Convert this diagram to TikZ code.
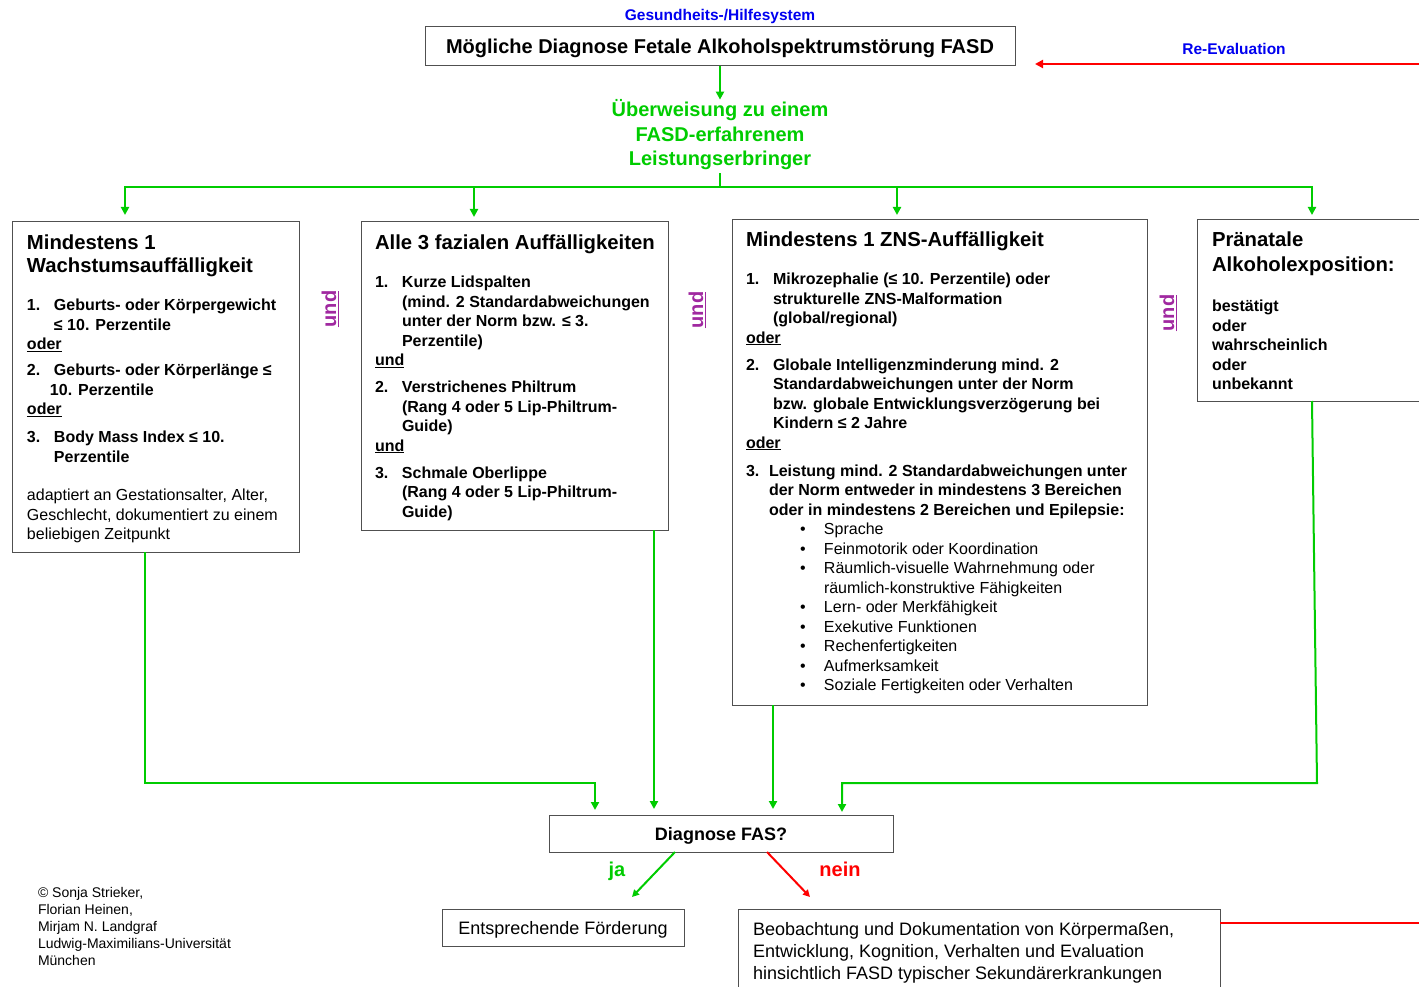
\documentclass[tikz,border=0pt]{standalone}
\usepackage{fontspec}
\setmainfont{Liberation Sans}
\usetikzlibrary{arrows.meta,calc}
\definecolor{fgreen}{RGB}{0,204,0}
\definecolor{fblue}{RGB}{0,0,240}
\definecolor{fred}{RGB}{255,0,0}
\definecolor{fpurple}{RGB}{160,40,160}
\definecolor{fgray}{RGB}{80,80,80}
\newcommand\fsz[2]{\fontsize{#1}{#2}\selectfont}
\newcommand\mc[1]{\multicolumn{2}{@{}l@{}}{\underline{#1}}}
\newcommand\bul[1]{\mdseries\hspace{27pt}\makebox[24pt][l]{•}#1}
\begin{document}
\begin{tikzpicture}[x=1pt,y=-1pt,
  box/.style={draw=fgray,line width=1pt,rectangle,inner sep=0pt,outer sep=0pt},
  txt/.style={inner sep=0pt,outer sep=0pt,anchor=base west,text=black},
  ctxt/.style={inner sep=0pt,outer sep=0pt,anchor=base},
  gline/.style={draw=fgreen,line width=2pt},
  garrow/.style={gline,-{Triangle[length=8pt,width=8pt]}},
  rline/.style={draw=fred,line width=2pt},
  rarrow/.style={rline,-{Triangle[length=8pt,width=8pt]}},
  undlab/.style={rotate=90,text=fpurple,font=\fsz{20}{24}\bfseries,inner sep=0pt},
  title/.style={txt,font=\fsz{20.3}{23}\bfseries},
  items/.style={txt,font=\fsz{16}{19.5}\bfseries},
]
\useasboundingbox (0,0) rectangle (1419,987);
\clip (0,0) rectangle (1419,987);

% header
\node[ctxt,text=fblue,font=\fsz{15.5}{18}\bfseries] (sys) at (720,20.5) {Gesundheits-/Hilfesystem};
\node[box,minimum width=590pt,minimum height=39pt] (top) at (720,46.5) {};
\node[ctxt,font=\fsz{20}{24}\bfseries] (topt) at ([yshift=-7pt]top.center)
  {Mögliche Diagnose Fetale Alkoholspektrumstörung FASD};
\node[ctxt,text=fblue,font=\fsz{15.5}{18}\bfseries] (reev) at (1234,54.5) {Re-Evaluation};
\node[ctxt,text=fgreen,font=\fsz{20}{24.5}\bfseries] (ueb) at (720,116.8)
  {\begin{tabular}[t]{@{}c@{}}Überweisung zu einem\\FASD-erfahrenem\\Leistungserbringer\end{tabular}};

% boxes
\node[box,minimum width=287pt,minimum height=330pt] (b1) at (155.5,387) {};
\node[box,minimum width=307pt,minimum height=308pt] (b2) at (514.5,376) {};
\node[box,minimum width=415pt,minimum height=485pt] (b3) at (939.5,462.5) {};
\node[box,minimum width=240pt,minimum height=181pt] (b4) at (1317,310.5) {};

% box 1
\node[title] (b1t) at (27,250)
  {\begin{tabular}[t]{@{}l@{}}Mindestens 1\\Wachstumsauffälligkeit\end{tabular}};
\node[items] (b1i) at (27,310.6)
  {\begin{tabular}[t]{@{}p{27pt}@{}l@{}}
  1. & Geburts- oder Körpergewicht\\
     & ≤ 10. Perzentile\\
  \mc{oder}\\[6.5pt]
  2. & Geburts- oder Körperlänge ≤\\
     & \hspace{-4pt}10. Perzentile\\
  \mc{oder}\\[8.5pt]
  3. & Body Mass Index ≤ 10.\\
     & Perzentile
  \end{tabular}};
\node[txt,font=\fsz{16}{19.5}] (b1f) at (27,500.6)
  {\begin{tabular}[t]{@{}l@{}}adaptiert an Gestationsalter, Alter,\\Geschlecht, dokumentiert zu einem\\beliebigen Zeitpunkt\end{tabular}};

% box 2
\node[title] (b2t) at (375,250) {Alle 3 fazialen Auffälligkeiten};
\node[items] (b2i) at (375,287.6)
  {\begin{tabular}[t]{@{}p{27pt}@{}l@{}}
  1. & Kurze Lidspalten\\
     & (mind. 2 Standardabweichungen\\
     & unter der Norm bzw. ≤ 3.\\
     & Perzentile)\\
  \mc{und}\\[7.5pt]
  2. & Verstrichenes Philtrum\\
     & (Rang 4 oder 5 Lip-Philtrum-\\
     & Guide)\\
  \mc{und}\\[7.5pt]
  3. & Schmale Oberlippe\\
     & (Rang 4 oder 5 Lip-Philtrum-\\
     & Guide)
  \end{tabular}};

% box 3
\node[title] (b3t) at (746,247) {Mindestens 1 ZNS-Auffälligkeit};
\node[items] (b3i) at (746,284.6)
  {\begin{tabular}[t]{@{}p{27pt}@{}l@{}}
  1. & Mikrozephalie (≤ 10. Perzentile) oder\\
     & strukturelle ZNS-Malformation\\
     & (global/regional)\\
  \mc{oder}\\[7.5pt]
  2. & Globale Intelligenzminderung mind. 2\\
     & Standardabweichungen unter der Norm\\
     & bzw. globale Entwicklungsverzögerung bei\\
     & Kindern ≤ 2 Jahre\\
  \mc{oder}\\[8.5pt]
  3. & \hspace{-4pt}Leistung mind. 2 Standardabweichungen unter\\
     & \hspace{-4pt}der Norm entweder in mindestens 3 Bereichen\\
     & \hspace{-4pt}oder in mindestens 2 Bereichen und Epilepsie:\\
     & \bul{Sprache}\\
     & \bul{Feinmotorik oder Koordination}\\
     & \bul{Räumlich-visuelle Wahrnehmung oder}\\
     & \mdseries\hspace{51pt}räumlich-konstruktive Fähigkeiten\\
     & \bul{Lern- oder Merkfähigkeit}\\
     & \bul{Exekutive Funktionen}\\
     & \bul{Rechenfertigkeiten}\\
     & \bul{Aufmerksamkeit}\\
     & \bul{Soziale Fertigkeiten oder Verhalten}
  \end{tabular}};

% box 4
\node[txt,font=\fsz{20.3}{25}\bfseries] (b4t) at (1212,247)
  {\begin{tabular}[t]{@{}l@{}}Pränatale\\Alkoholexposition:\end{tabular}};
\node[items] (b4i) at (1212,311.6)
  {\begin{tabular}[t]{@{}l@{}}bestätigt\\oder\\wahrscheinlich\\oder\\unbekannt\end{tabular}};

% und labels
\node[undlab] (u1) at (330,309) {\underline{und}};
\node[undlab] (u2) at (697,310) {\underline{und}};
\node[undlab] (u3) at (1168,313) {\underline{und}};

% bottom
\node[box,minimum width=344pt,minimum height=37pt] (diag) at (721,833.5) {};
\node[ctxt,font=\fsz{18}{22}\bfseries] (diagt) at ([yshift=-6.5pt]diag.center) {Diagnose FAS?};
\node[box,minimum width=242pt,minimum height=37pt] (ent) at (563,927.5) {};
\node[ctxt,font=\fsz{18}{22}] (entt) at ([yshift=-6.5pt]ent.center) {Entsprechende Förderung};
\node[box,minimum width=482pt,minimum height=100pt] (beob) at (979,959) {};
\node[txt,font=\fsz{18}{22}] (beobt) at (753,935.5)
  {\begin{tabular}[t]{@{}l@{}}Beobachtung und Dokumentation von Körpermaßen,\\Entwicklung, Kognition, Verhalten und Evaluation\\hinsichtlich FASD typischer Sekundärerkrankungen\end{tabular}};
\node[ctxt,text=fgreen,font=\fsz{20}{24}\bfseries] (ja) at (617,876) {ja};
\node[ctxt,text=fred,font=\fsz{20}{24}\bfseries] (nein) at (840,876) {nein};
\node[txt,font=\fsz{14}{17}] (copy) at (38,897.8)
  {\begin{tabular}[t]{@{}l@{}}© Sonja Strieker,\\Florian Heinen,\\Mirjam N. Landgraf\\Ludwig-Maximilians-Universität\\München\end{tabular}};

% connectors top
\draw[garrow] (top.south) -- (ueb.north);
\coordinate (hub) at (720,187);
\coordinate (hL) at (125,187);
\coordinate (h2) at (474,187);
\coordinate (h3) at (897,187);
\coordinate (hR) at (1312,187);
\draw[gline] (ueb.south) -- (hub);
\draw[gline] ([xshift=-1pt]hL) -- ([xshift=1pt]hR);
\draw[garrow,shorten >=7pt] (hL) -- (hL |- b1.north);
\draw[garrow,shorten >=5pt] (h2) -- (h2 |- b2.north);
\draw[garrow,shorten >=5pt] (h3) -- (h3 |- b3.north);
\draw[garrow,shorten >=5pt] (hR) -- (hR |- b4.north);

% connectors bottom
\coordinate (b1o) at ([xshift=133pt]b1.south west);
\coordinate (b2o) at ([xshift=293pt]b2.south west);
\coordinate (b3o) at ([xshift=41pt]b3.south west);
\coordinate (b4o) at ([xshift=115pt]b4.south west);
\coordinate (j1) at (145,783);
\coordinate (j2) at (595,783);
\coordinate (j3) at (1317,783);
\coordinate (j4) at (842,783);
\draw[garrow,shorten >=5pt] (b1o) -- (j1) -- (j2) -- (j2 |- diag.north);
\draw[garrow,shorten >=6pt] (b2o) -- (b2o |- diag.north);
\draw[garrow,shorten >=6pt] (b3o) -- (b3o |- diag.north);
\draw[garrow,shorten >=3pt] (b4o) -- (j3) -- (j4) -- (j4 |- diag.north);

% ja / nein
\coordinate (jaA) at ([xshift=126pt]diag.south west);
\coordinate (jaB) at (632,897);
\coordinate (neA) at ([xshift=218pt]diag.south west);
\coordinate (neB) at (810,897);
\draw[draw=fgreen,line width=2pt,-{Triangle[length=7pt,width=7pt]}] (jaA) -- (jaB);
\draw[rline,-{Triangle[length=7pt,width=7pt]}] (neA) -- (neB);

% re-evaluation loop
\coordinate (reR) at (1425,64);
\coordinate (reE) at (1035,64);
\coordinate (loopR) at (1425,923);
\draw[rarrow] (reR) -- (reE);
\draw[rline] ([yshift=-14pt]beob.north east) -- (loopR);
\end{tikzpicture}
\end{document}
